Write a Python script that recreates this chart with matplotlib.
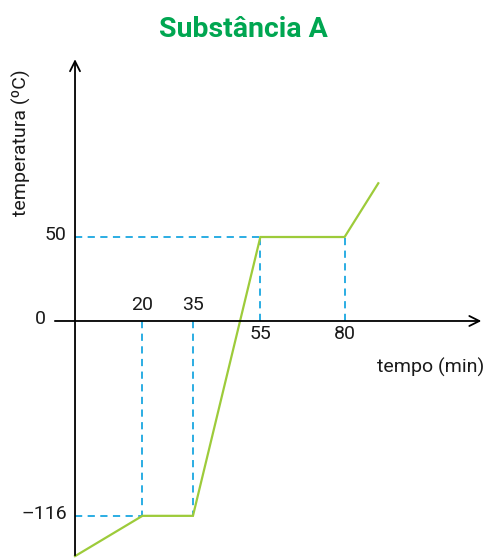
import matplotlib
matplotlib.use("Agg")
import matplotlib.pyplot as plt

# dados do gráfico
tempo = [0, 20, 35, 55, 80, 90]
temperatura = [-140, -116, -116, 50, 50, 82]

# marcas nos eixos
x_acima = [20, 35]
x_abaixo = [55, 80]
y_marcas = [50, 0, -116]
y_rotulos = ["50", "0", "\u2013116"]

VERDE = "#9DCB3A"
AZUL = "#1AA7E1"
TITULO = "#00A651"

plt.rcParams["font.family"] = ["Roboto", "DejaVu Sans"]
FS = 14
COR_TXT = "#1a1a1a"

fig = plt.figure(figsize=(4.86, 5.58), dpi=100)
ax = fig.add_axes([0, 0, 1, 1])
ax.set_xlim(-22.26, 121.96)
ax.set_ylim(-141.1, 191.1)
ax.axis("off")

# linhas tracejadas de referência
dash = dict(color=AZUL, lw=1.3, linestyle=(0, (4, 3)))
ax.plot([0, 55], [50, 50], **dash)
ax.plot([0, 20], [-116, -116], **dash)
ax.plot([20, 20], [0, -116], **dash)
ax.plot([35, 35], [0, -116], **dash)
ax.plot([55, 55], [0, 50], **dash)
ax.plot([80, 80], [0, 50], **dash)

# curva de aquecimento
ax.plot(tempo, temperatura, color=VERDE, lw=1.6, solid_joinstyle="miter")

# eixos com setas
seta = dict(arrowstyle="->", color="black", lw=1.3, mutation_scale=18)
ax.annotate("", xy=(121.4, 0), xytext=(-6.8, 0), arrowprops=seta)
ax.annotate("", xy=(0, 157.5), xytext=(0, -141.1), arrowprops=seta)

# rótulos
txt = dict(fontsize=FS, color=COR_TXT)
for x in x_acima:
    ax.text(x, 4, str(x), ha="center", va="bottom", **txt)
for x in x_abaixo:
    ax.text(x, -2.5, str(x), ha="center", va="top", **txt)
for y, r in zip(y_marcas, y_rotulos):
    xx = -8.6 if y == 0 else -2.4
    ax.text(xx, y + 1, r, ha="right", va="center", **txt)

ax.text(121.4, -27.5, "tempo (min)", ha="right", va="center", **txt)
ax.text(-16.0, 106, "temperatura (\u00baC)", ha="center", va="center",
        rotation=90, **txt)

fig.text(0.5, 0.948, "Substância A", ha="center", va="center",
         fontsize=20.5, fontweight="bold", color=TITULO)

fig.savefig("out.png", dpi=100)
